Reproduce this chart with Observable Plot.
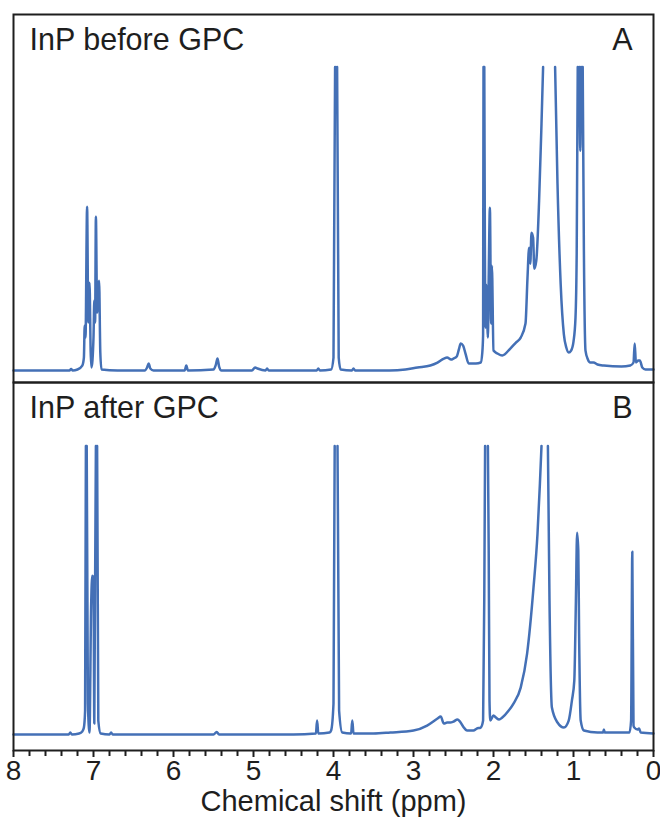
<!DOCTYPE html>
<html>
<head>
<meta charset="utf-8">
<script src="https://cdn.jsdelivr.net/npm/d3@7"></script>
<script src="https://cdn.jsdelivr.net/npm/@observablehq/plot@0.6"></script>
<style>
  html, body { margin: 0; padding: 0; background: #ffffff; }
  #chart svg { display: block; }
</style>
</head>
<body>
<div id="chart"></div>
<script>
// ---- Data ----
const panels = ["A", "B"];
const panelTitles = ["InP before GPC", "InP after GPC"];
const xTitle = "Chemical shift (ppm)";
const majorTicks = [8, 7, 6, 5, 4, 3, 2, 1, 0];
const minorTicks = [7.8,7.6,7.4,7.2,6.8,6.6,6.4,6.2,5.8,5.6,5.4,5.2,4.8,4.6,4.4,4.2,3.8,3.6,3.4,3.2,2.8,2.6,2.4,2.2,1.8,1.6,1.4,1.2,0.8,0.6,0.4,0.2];

// Spectrum A (before GPC): chemical shift (ppm) and intensity (arbitrary units);
// null = off-scale (peak cut at the top of the panel)
const ppmA = [8.00,7.60,7.30,7.28,7.26,7.20,7.14,7.12,7.11,7.10,7.08,7.065,7.05,7.035,7.025,7.00,6.99,6.98,6.97,6.955,6.93,6.915,6.90,6.70,6.36,6.33,6.31,6.29,6.25,5.86,5.84,5.82,5.50,5.47,5.45,5.43,5.40,5.02,4.98,4.95,4.85,4.83,4.81,4.21,4.19,4.17,4.03,4.00,3.98,3.97,3.955,3.935,3.91,3.77,3.75,3.73,3.30,3.10,2.95,2.79,2.70,2.62,2.58,2.53,2.50,2.46,2.43,2.41,2.38,2.35,2.31,2.22,2.16,2.14,2.13,2.125,2.12,2.115,2.10,2.09,2.07,2.06,2.045,2.03,2.02,2.00,1.95,1.89,1.79,1.72,1.66,1.60,1.575,1.555,1.54,1.525,1.505,1.49,1.465,1.43,1.40,1.38,1.30,1.23,1.20,1.16,1.12,1.09,1.06,1.03,1.00,0.975,0.96,0.947,0.935,0.925,0.915,0.905,0.895,0.885,0.87,0.85,0.82,0.79,0.75,0.70,0.62,0.40,0.29,0.25,0.235,0.22,0.19,0.17,0.14,0.10,0.00];
const intA = [12,12,12,13.5,12,13,17,25,57,45,176,60,100,30,15,45,82,60,166,70,102,30,13,12,12,15,19,14,12,12,17,12,13,18,24,16,12,12,15,14,12,14,12,12,14,12,13,25,316,null,316,25,13,12,14,12,12,13,15,17,20,24,25,23,24,26,34,39,37,29,19,19,20,30,48,316,null,316,55,98,45,105,175,59,117,32,29,27,34,40,45,59,105,135,119,150,145,114,122,182,259,316,null,316,199,98,48,35,30,32,41,65,130,316,null,316,232,316,null,316,132,32,23,20,20,18,17,16,17,20,39,20,22,22,15,13,13];

// Spectrum B (after GPC)
const ppmB = [8.00,7.60,7.31,7.29,7.27,7.18,7.14,7.12,7.105,7.095,7.09,7.085,7.07,7.05,7.03,7.015,7.00,6.99,6.97,6.963,6.955,6.94,6.91,6.80,6.78,6.76,6.50,5.50,5.46,5.43,4.50,4.22,4.205,4.19,4.05,4.03,4.00,3.985,3.967,3.95,3.93,3.89,3.78,3.765,3.75,3.50,3.29,3.00,2.83,2.70,2.66,2.62,2.58,2.54,2.50,2.45,2.42,2.38,2.33,2.25,2.21,2.16,2.13,2.115,2.105,2.09,2.07,2.06,2.05,2.04,2.00,1.97,1.93,1.89,1.81,1.75,1.66,1.58,1.50,1.45,1.42,1.40,1.36,1.32,1.30,1.27,1.20,1.12,1.06,1.02,0.99,0.97,0.955,0.94,0.93,0.91,0.87,0.70,0.63,0.62,0.61,0.30,0.28,0.265,0.25,0.24,0.20,0.18,0.16,0.00];
const intB = [16,16,16,18,16,17,19,23,40,305,null,305,47,18,143,175,173,27,305,null,305,30,17,16,18,16,16,16,18.5,16,16,17,30,17,18,20,47,305,null,305,40,18,17,30,17,17,18,20,25,32,34,27,28,28,29,31,29,24,20,20,22,23,30,157,305,null,305,200,50,30,35,33,31,33,40,47,63,97,163,217,267,305,null,305,150,43,28,23,30,50,70,150,218,200,117,30,20,18,18,21,18,18,30,199,25,23,21,22,18,17];

// ---- Build table ----
const rows = [];
ppmA.forEach((p, i) => rows.push({panel: "A", ppm: p, v: intA[i]}));
ppmB.forEach((p, i) => rows.push({panel: "B", ppm: p, v: intB[i]}));
const labelRows = panels.map((p, i) => ({panel: p, left: panelTitles[i], right: p}));

const ink = "#1e1e1e";
const blue = "#4470b6";

const chart = Plot.plot({
  width: 660,
  height: 823,
  marginLeft: 13,
  marginRight: 7,
  marginTop: 13,
  marginBottom: 73,
  style: {fontFamily: "'Liberation Sans', Arial, sans-serif", background: "#ffffff", color: ink},
  x: {domain: [8, 0]},
  y: {domain: [0, 368.5], axis: null},
  fy: {domain: panels, axis: null, padding: 0},
  marks: [
    Plot.line(rows, {x: "ppm", y: "v", fy: "panel", stroke: blue, strokeWidth: 2.5, strokeLinejoin: "round", curve: "monotone-x"}),
    Plot.frame({stroke: ink, strokeWidth: 2}),
    Plot.axisX({ticks: minorTicks, tickSize: 6, stroke: ink, strokeWidth: 2, tickFormat: () => "", label: null}),
    Plot.axisX({ticks: majorTicks, tickSize: 7, tickPadding: 3, fontSize: 28, stroke: ink, strokeWidth: 2, fill: ink, tickFormat: d => String(d), label: null}),
    Plot.text(labelRows, {fy: "panel", text: "left", frameAnchor: "top-left", lineAnchor: "top", dx: 16, dy: 14, fontSize: 30.5, fill: ink}),
    Plot.text(labelRows, {fy: "panel", text: "right", frameAnchor: "top-right", lineAnchor: "top", dx: -21, dy: 14, fontSize: 30.5, fill: ink}),
    Plot.text([{panel: "B", t: xTitle}], {fy: "panel", text: "t", frameAnchor: "bottom", lineAnchor: "top", dy: 40, fontSize: 29, fill: ink})
  ]
});
document.getElementById("chart").appendChild(chart);
</script>
</body>
</html>
